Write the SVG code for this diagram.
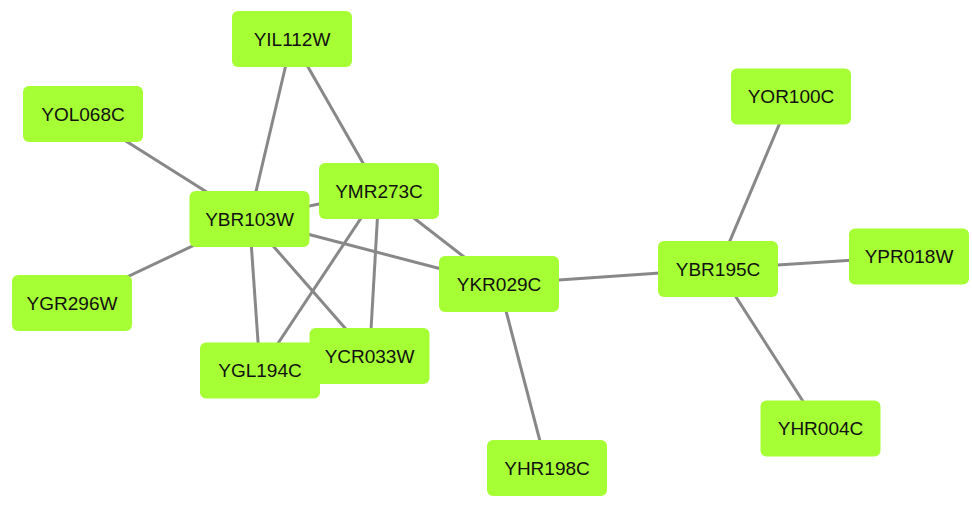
<svg xmlns="http://www.w3.org/2000/svg" width="972" height="507" viewBox="0 0 972 507">
<style>
.edge{stroke:#888888;stroke-width:3;fill:none;stroke-linecap:butt}
.node rect{fill:#a6ff35;}
.node text{font-family:"Liberation Sans",Arial,sans-serif;font-size:19px;fill:#111111;text-anchor:middle;dominant-baseline:central}
</style>
<rect width="972" height="507" fill="#ffffff"/>
<g id="edges">
<line class="edge" x1="292" y1="39" x2="249.5" y2="219"/>
<line class="edge" x1="292" y1="39" x2="379" y2="191"/>
<line class="edge" x1="83" y1="114" x2="249.5" y2="219"/>
<line class="edge" x1="72" y1="303" x2="249.5" y2="219"/>
<line class="edge" x1="249.5" y1="219" x2="379" y2="191"/>
<line class="edge" x1="249.5" y1="219" x2="260" y2="370.5"/>
<line class="edge" x1="249.5" y1="219" x2="369.5" y2="356"/>
<line class="edge" x1="249.5" y1="219" x2="499" y2="284"/>
<line class="edge" x1="379" y1="191" x2="260" y2="370.5"/>
<line class="edge" x1="379" y1="191" x2="369.5" y2="356"/>
<line class="edge" x1="379" y1="191" x2="499" y2="284"/>
<line class="edge" x1="499" y1="284" x2="547" y2="468"/>
<line class="edge" x1="499" y1="284" x2="718" y2="269"/>
<line class="edge" x1="718" y1="269" x2="791" y2="96.5"/>
<line class="edge" x1="718" y1="269" x2="909" y2="256.5"/>
<line class="edge" x1="718" y1="269" x2="820.5" y2="428.5"/>
</g>
<g id="YIL112W" class="node"><rect x="232" y="11" width="120" height="56" rx="6"/><text x="292" y="39">YIL112W</text></g>
<g id="YOL068C" class="node"><rect x="23" y="86" width="120" height="56" rx="6"/><text x="83" y="114">YOL068C</text></g>
<g id="YMR273C" class="node"><rect x="319" y="163" width="120" height="56" rx="6"/><text x="379" y="191">YMR273C</text></g>
<g id="YBR103W" class="node"><rect x="189.5" y="191" width="120" height="56" rx="6"/><text x="249.5" y="219">YBR103W</text></g>
<g id="YGR296W" class="node"><rect x="12" y="275" width="120" height="56" rx="6"/><text x="72" y="303">YGR296W</text></g>
<g id="YCR033W" class="node"><rect x="309.5" y="328" width="120" height="56" rx="6"/><text x="369.5" y="356">YCR033W</text></g>
<g id="YGL194C" class="node"><rect x="200" y="342.5" width="120" height="56" rx="6"/><text x="260" y="370.5">YGL194C</text></g>
<g id="YKR029C" class="node"><rect x="439" y="256" width="120" height="56" rx="6"/><text x="499" y="284">YKR029C</text></g>
<g id="YBR195C" class="node"><rect x="658" y="241" width="120" height="56" rx="6"/><text x="718" y="269">YBR195C</text></g>
<g id="YOR100C" class="node"><rect x="731" y="68.5" width="120" height="56" rx="6"/><text x="791" y="96.5">YOR100C</text></g>
<g id="YPR018W" class="node"><rect x="849" y="228.5" width="120" height="56" rx="6"/><text x="909" y="256.5">YPR018W</text></g>
<g id="YHR004C" class="node"><rect x="760.5" y="400.5" width="120" height="56" rx="6"/><text x="820.5" y="428.5">YHR004C</text></g>
<g id="YHR198C" class="node"><rect x="487" y="440" width="120" height="56" rx="6"/><text x="547" y="468">YHR198C</text></g>
</svg>
